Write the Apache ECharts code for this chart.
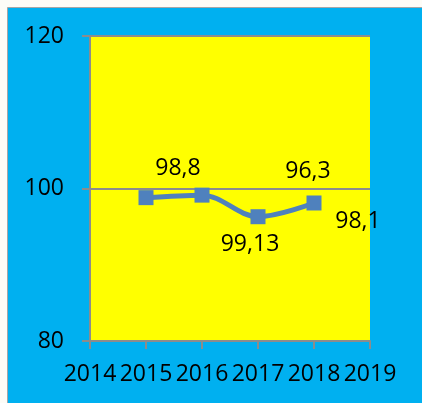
<!DOCTYPE html>
<html>
<head>
<meta charset="utf-8">
<script src="https://cdn.jsdelivr.net/npm/echarts@6/dist/echarts.min.js"></script>
<style>
  html, body { margin: 0; padding: 0; background: #fdfcf7; }
  #chart { width: 422px; height: 403px; }
</style>
</head>
<body>
<div id="chart"></div>
<script>
const years = ['2014', '2015', '2016', '2017', '2018', '2019']
const values = [null, 98.8, 99.13, 96.3, 98.1, null]
// labels sit away from their points, as in the original picture
const labelOffsets = [null, [32, -29], [48, 49], [50, -45], [44, 18]]
const yTicks = { min: 80, max: 120, interval: 20 }

const chart = echarts.init(document.getElementById('chart'))
const font = 'Open Sans'
const axisGrey = '#8c8c8c'

chart.setOption({
  animation: false,
  graphic: [{
    type: 'rect',
    shape: { x: 7.5, y: 7.5, width: 420, height: 400 },
    style: { fill: '#00b0f0', stroke: '#a6a6a6', lineWidth: 1 },
    z: -10
  }],
  grid: {
    left: 90, right: 52, top: 36, bottom: 62,
    show: true, backgroundColor: '#ffff00', borderWidth: 0
  },
  xAxis: {
    type: 'category',
    data: years,
    boundaryGap: false,
    axisLine: { lineStyle: { color: axisGrey, width: 2 } },
    axisTick: { length: 8, lineStyle: { color: axisGrey, width: 2 } },
    axisLabel: { color: '#000', fontFamily: font, fontSize: 23, margin: 22, interval: 0 },
    splitLine: { show: false }
  },
  yAxis: {
    type: 'value',
    min: yTicks.min, max: yTicks.max, interval: yTicks.interval,
    axisLine: { show: true, lineStyle: { color: axisGrey, width: 2 } },
    axisTick: { show: true, length: 8, lineStyle: { color: axisGrey, width: 2 } },
    axisLabel: { color: '#000', fontFamily: font, fontSize: 23, margin: 26 },
    splitLine: { lineStyle: { color: axisGrey, width: 2 } }
  },
  series: [{
    type: 'line',
    smooth: 0.35,
    data: values.map((v, i) => v == null ? v : {
      value: v,
      label: { offset: labelOffsets[i] }
    }),
    symbol: 'rect',
    symbolSize: 15,
    lineStyle: { color: '#4f81bd', width: 5 },
    itemStyle: { color: '#4f81bd' },
    label: {
      show: true,
      position: 'inside',
      color: '#000',
      fontFamily: font,
      fontSize: 23,
      formatter: (p) => String(p.value).replace('.', ',')
    }
  }]
})
</script>
</body>
</html>
